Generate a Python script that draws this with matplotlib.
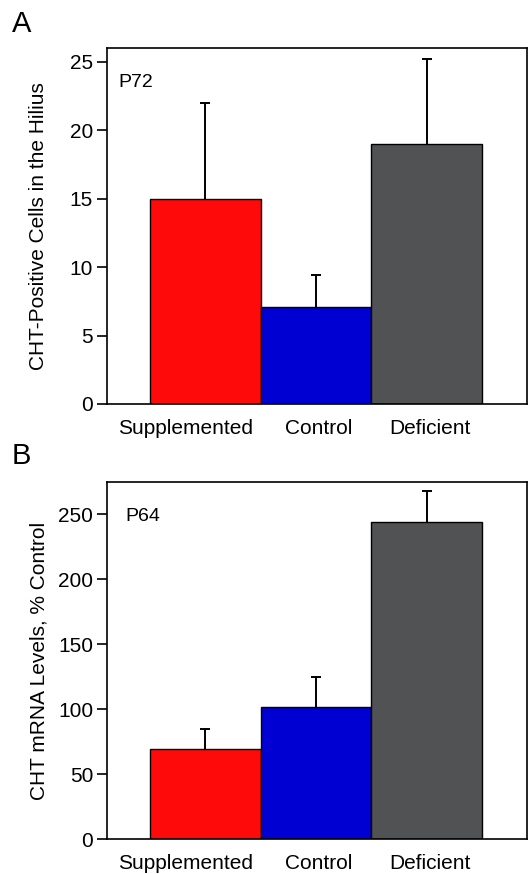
import matplotlib
matplotlib.use("Agg")
import matplotlib.pyplot as plt
import numpy as np

plt.rcParams['font.family'] = ['Liberation Sans', 'DejaVu Sans']

groups = ['Supplemented', 'Control', 'Deficient']
colors = ['#ff0a0a', '#0000d2', '#505254']

# panel A: CHT-positive cells (P72)
cells_mean = [15.0, 7.1, 19.0]
cells_err = [7.0, 2.3, 6.2]

# panel B: CHT mRNA levels (P64)
mrna_mean = [69, 102, 244]
mrna_err = [16, 23, 24]

# small horizontal nudges of the category labels (as in the original figure)
label_shift = np.array([-0.18, 0.02, 0.03])

fig = plt.figure(figsize=(5.3, 8.74), dpi=100)
axA = fig.add_axes([0.2019, 0.5378, 0.7924, 0.4073])
axB = fig.add_axes([0.2019, 0.0400, 0.7924, 0.4085])


def draw_panel(ax, means, errs, ylim, yticks, ylabel, tag, tagpos):
    x = np.arange(len(groups))
    ax.bar(x, means, width=1.0, color=colors, edgecolor='black', linewidth=1.0, zorder=2)
    eb = ax.errorbar(x, means, yerr=[np.zeros(len(errs)), errs], fmt='none',
                     ecolor='black', elinewidth=1.4, capsize=3.6, capthick=1.4, zorder=1)
    # only the upper cap is shown
    eb[1][0].set_visible(False)
    ax.set_xlim(-0.887, 2.905)
    ax.set_ylim(*ylim)
    ax.set_yticks(yticks)
    ax.set_xticks(x + label_shift)
    ax.set_xticklabels(groups, fontsize=15)
    ax.tick_params(axis='x', length=0, pad=11)
    ax.tick_params(axis='y', length=7, width=1.2, direction='out', labelsize=15, pad=3)
    for s in ax.spines.values():
        s.set_linewidth(1.2)
    ax.set_ylabel(ylabel, fontsize=15)
    ax.yaxis.set_label_coords(-0.14, 0.5)
    ax.text(tagpos[0], tagpos[1], tag, transform=ax.transAxes, fontsize=14,
            va='center', ha='left')


draw_panel(axA, cells_mean, cells_err, (0, 26.0), [0, 5, 10, 15, 20, 25],
           'CHT-Positive Cells in the Hilius', 'P72', (0.026, 0.904))
draw_panel(axB, mrna_mean, mrna_err, (0, 275), [0, 50, 100, 150, 200, 250],
           'CHT mRNA Levels, % Control', 'P64', (0.043, 0.902))

fig.text(0.022, 0.973, 'A', fontsize=21, va='center', ha='left')
fig.text(0.022, 0.478, 'B', fontsize=21, va='center', ha='left')

fig.savefig('out.png', dpi=100)
